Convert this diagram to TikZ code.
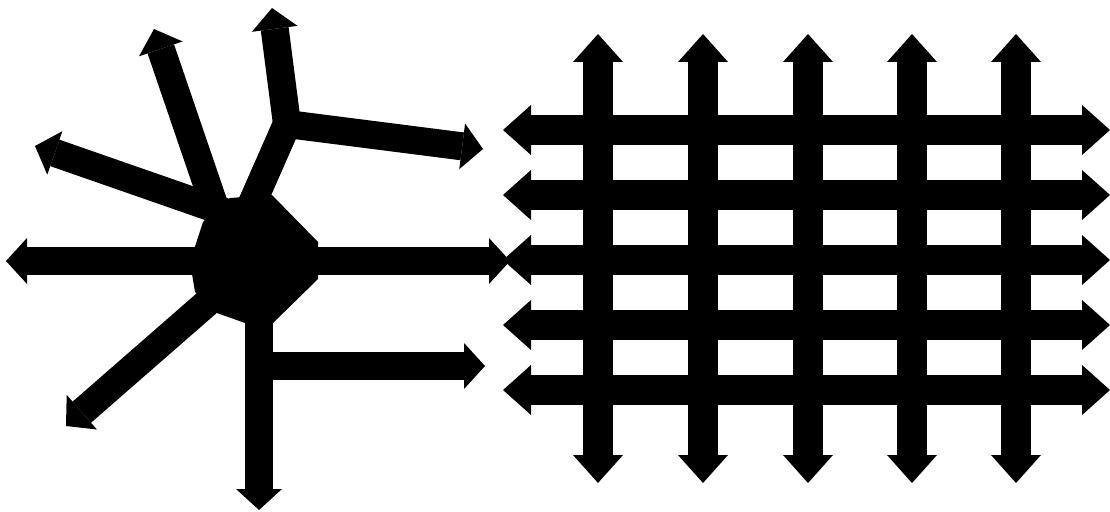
\documentclass[tikz,border=0pt]{standalone}
\usetikzlibrary{arrows.meta}
\begin{document}
\begin{tikzpicture}[x=1pt,y=-1pt,
  tipL/.tip={Triangle[length=21pt,width=46pt,line width=0pt]},
  tipG/.tip={Triangle[length=28pt,width=50pt,line width=0pt]},
  armL/.style={line width=28pt, line join=miter, -tipL},
  armG/.style={line width=30pt, tipG-tipG}]
\useasboundingbox (0,0) rectangle (1110,511);
% hub
\coordinate (hub) at (255,261);
\fill (230,198) -- (272,195) -- (318,242) -- (318,279) -- (273,323) -- (245,323) -- (217,313) -- (195,292) -- (190,262) -- (203,222) -- cycle;
% end points
\coordinate (L) at (6,261);
\coordinate (R) at (510,261);
\coordinate (D) at (259,510);
\coordinate (dj) at (259,366);
\coordinate (BR) at (485,366);
\coordinate (LL) at (66,426);
\coordinate (ulS) at (236,216);
\coordinate (UL) at (35,146);
\coordinate (stS) at (222,228);
\coordinate (ST) at (154,29);
\coordinate (jS) at (247,215);
\coordinate (jn) at (287,124);
\coordinate (T) at (272,8);
\coordinate (TR) at (483,149);
% arms
\draw[armL] (hub) -- (L);
\draw[armL] (hub) -- (R);
\draw[armL] (D|-hub) -- (D);
\draw[armL] (dj) -- (BR);
\draw[armL] (hub) -- (LL);
\draw[armL] (ulS) -- (UL);
\draw[armL] (stS) -- (ST);
\draw[armL] (jS) -- (jn) -- (T);
\draw[armL] (jS) -- (jn) -- (TR);
% grid
\foreach \i/\x in {1/598,2/703,3/808,4/912,5/1016}{
  \coordinate (vt\i) at (\x,34);
  \coordinate (vb\i) at (\x,483);
  \draw[armG] (vt\i) -- (vb\i);
}
\foreach \i/\y in {1/130,2/195,3/260,4/325,5/390}{
  \coordinate (hl\i) at (503,\y);
  \coordinate (hr\i) at (1110,\y);
  \draw[armG] (hl\i) -- (hr\i);
}
\end{tikzpicture}
\end{document}
